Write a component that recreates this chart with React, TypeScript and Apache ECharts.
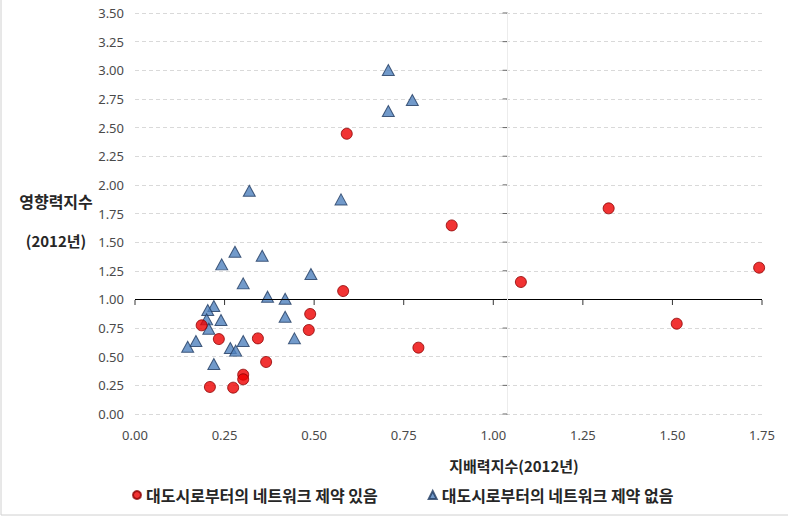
import React, { useEffect, useRef } from "react";
import * as echarts from "echarts";

// 대도시로부터의 네트워크 제약 있음 (red circles): [지배력지수, 영향력지수]
const withConstraint: [number, number][] = [
  [0.186, 0.774],
  [0.234, 0.654],
  [0.343, 0.66],
  [0.489, 0.873],
  [0.485, 0.733],
  [0.581, 1.073],
  [0.366, 0.454],
  [0.302, 0.343],
  [0.302, 0.303],
  [0.209, 0.236],
  [0.274, 0.23],
  [0.591, 2.446],
  [1.322, 1.795],
  [0.884, 1.646],
  [1.742, 1.277],
  [1.077, 1.152],
  [1.512, 0.788],
  [0.791, 0.579],
];

// 대도시로부터의 네트워크 제약 없음 (blue triangles)
const withoutConstraint: [number, number][] = [
  [0.279, 1.416],
  [0.355, 1.381],
  [0.242, 1.306],
  [0.491, 1.222],
  [0.302, 1.14],
  [0.37, 1.024],
  [0.419, 1.006],
  [0.22, 0.942],
  [0.203, 0.907],
  [0.2, 0.826],
  [0.24, 0.82],
  [0.419, 0.849],
  [0.206, 0.744],
  [0.445, 0.66],
  [0.17, 0.637],
  [0.147, 0.587],
  [0.302, 0.637],
  [0.266, 0.576],
  [0.281, 0.553],
  [0.22, 0.436],
  [0.319, 1.949],
  [0.575, 1.873],
  [0.707, 3.002],
  [0.707, 2.644],
  [0.774, 2.74],
];

const xTicks = [0, 0.25, 0.5, 0.75, 1.0, 1.25, 1.5, 1.75];
const yTicks = [0, 0.25, 0.5, 0.75, 1.0, 1.25, 1.5, 1.75, 2.0, 2.25, 2.5, 2.75, 3.0, 3.25, 3.5];
const X_AXIS_CROSS_Y = 1.0; // horizontal axis drawn at 영향력지수 = 1.0
const Y_AXIS_CROSS_X = 1.04; // vertical axis drawn near 지배력지수 = 1.0

const SERIES_A = "대도시로부터의 네트워크 제약 있음";
const SERIES_B = "대도시로부터의 네트워크 제약 없음";
const X_NAME = "지배력지수(2012년)";
const Y_NAME_1 = "영향력지수";
const Y_NAME_2 = "(2012년)";

const KR_FONT = '"Noto Sans CJK KR", "Noto Sans", sans-serif';
const NUM_FONT = '"Noto Sans", "Open Sans", sans-serif';

export default function App() {
  const ref = useRef<HTMLDivElement>(null);

  useEffect(() => {
    if (!ref.current) return;
    const chart = echarts.init(ref.current, undefined, { renderer: "svg" });
    chart.setOption({
      animation: false,
      backgroundColor: "#ffffff",
      grid: { left: 135, right: 26, top: 13, bottom: 105, containLabel: false },
      xAxis: {
        type: "value",
        min: 0,
        max: 1.75,
        interval: 0.25,
        axisLine: { show: false },
        axisTick: { show: false },
        splitLine: { show: false },
        axisLabel: {
          margin: 14,
          color: "#4a4a4a",
          fontFamily: NUM_FONT,
          fontSize: 13,
          formatter: (v: number) => v.toFixed(2),
        },
      },
      yAxis: {
        type: "value",
        min: 0,
        max: 3.5,
        interval: 0.25,
        axisLine: { show: false },
        axisTick: { show: false },
        splitLine: { show: true, lineStyle: { color: "#d9d9d9", type: [4, 3], width: 1 } },
        axisLabel: {
          margin: 11,
          color: "#4a4a4a",
          fontFamily: NUM_FONT,
          fontSize: 13,
          formatter: (v: number) => v.toFixed(2),
        },
      },
      legend: {
        data: [SERIES_A, SERIES_B],
        left: 127,
        top: 482,
        itemWidth: 8,
        itemHeight: 8,
        itemGap: 50,
        textStyle: { fontFamily: KR_FONT, fontSize: 16, fontWeight: "bold", color: "#262626" },
      },
      graphic: [
        {
          type: "rect",
          silent: true,
          shape: { x: 1, y: -2, width: 800, height: 517 },
          style: { fill: "none", stroke: "#d0d0d0", lineWidth: 1 },
        },
        {
          type: "text",
          x: 514,
          y: 465,
          style: {
            text: X_NAME,
            fontFamily: KR_FONT,
            fontSize: 15,
            fontWeight: "bold",
            fill: "#262626",
            align: "center",
            verticalAlign: "middle",
          },
        },
        {
          type: "text",
          x: 56,
          y: 201,
          style: {
            text: Y_NAME_1,
            fontFamily: KR_FONT,
            fontSize: 16,
            fontWeight: "bold",
            fill: "#262626",
            align: "center",
            verticalAlign: "middle",
          },
        },
        {
          type: "text",
          x: 56,
          y: 240,
          style: {
            text: Y_NAME_2,
            fontFamily: KR_FONT,
            fontSize: 15,
            fontWeight: "bold",
            fill: "#262626",
            align: "center",
            verticalAlign: "middle",
          },
        },
      ],
      series: [
        {
          name: "axes",
          type: "scatter",
          silent: true,
          symbolSize: 0,
          data: [],
          markLine: {
            silent: true,
            symbol: "none",
            label: { show: false },
            animation: false,
            data: [
              { yAxis: X_AXIS_CROSS_Y, lineStyle: { color: "#000000", width: 1, type: "solid" } },
              { xAxis: Y_AXIS_CROSS_X, lineStyle: { color: "#ececec", width: 1, type: "solid" } },
            ],
          },
          z: 1,
        },
        {
          name: "xTicks",
          type: "scatter",
          silent: true,
          symbol: "rect",
          symbolSize: [1, 5],
          symbolOffset: [0, 3],
          itemStyle: { color: "#000000" },
          data: xTicks.map((x) => [x, X_AXIS_CROSS_Y]),
          z: 2,
        },
        {
          name: "yTicks",
          type: "scatter",
          silent: true,
          symbol: "rect",
          symbolSize: [5, 1],
          symbolOffset: [-2.5, 0],
          itemStyle: { color: "#404040" },
          data: yTicks.map((y) => [Y_AXIS_CROSS_X, y]),
          z: 2,
        },
        {
          name: SERIES_B,
          type: "scatter",
          symbol: "triangle",
          symbolSize: [12, 11],
          itemStyle: { color: "#4f81bd", borderColor: "#1f3a60", borderWidth: 1 },
          data: withoutConstraint,
          z: 3,
        },
        {
          name: SERIES_A,
          type: "scatter",
          symbol: "circle",
          symbolSize: 11,
          itemStyle: { color: "#ee0000", borderColor: "#8b0000", borderWidth: 1 },
          data: withConstraint,
          z: 4,
        },
      ],
    });
    return () => chart.dispose();
  }, []);

  return (
    <div
      ref={ref}
      style={{ position: "fixed", left: 0, top: 0, width: 788, height: 519, background: "#fff" }}
    />
  );
}
